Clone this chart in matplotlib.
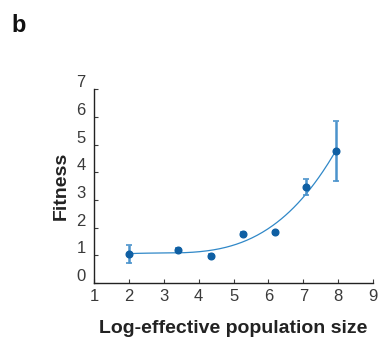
import numpy as np
import matplotlib
matplotlib.use('Agg')
import matplotlib.pyplot as plt
import matplotlib.transforms as mtransforms

# values
log_ne = [2.0, 3.41, 4.35, 5.28, 6.2, 7.09, 7.95]
fitness = [1.04, 1.2, 0.98, 1.76, 1.83, 3.47, 4.75]
err_lo = [0.33, 0.05, 0.08, 0.07, 0.05, 0.28, 1.08]
err_hi = [0.34, 0.05, 0.08, 0.07, 0.05, 0.29, 1.10]

xticks = list(range(1, 10))
yticks = list(range(0, 8))

plt.rcParams['font.family'] = ['Liberation Sans', 'DejaVu Sans']

fig = plt.figure(figsize=(3.78, 3.39), dpi=100)
ax = fig.add_axes([0.249, 0.165, 0.738, 0.572])

# cubic fit through the points
coef = np.polyfit(log_ne, fitness, 3)
xs = np.linspace(min(log_ne), max(log_ne), 200)
ax.plot(xs, np.polyval(coef, xs), color='#3088c8', lw=0.9, zorder=2)

ax.errorbar(log_ne, fitness, yerr=[err_lo, err_hi], fmt='none',
            ecolor='#4b93cc', elinewidth=1.8, capsize=2, capthick=1.2, zorder=3)
ax.plot(log_ne, fitness, 'o', color='#0f5fa3', ms=4.8, mec='#0f5fa3', zorder=4)

ax.set_xlim(1, 9)
ax.set_ylim(0, 7)
ax.set_xticks(xticks)
ax.set_yticks(yticks)
ax.tick_params(direction='in', length=3, width=0.8, colors='#3a3a3a',
               labelsize=12, pad=4)
ax.tick_params(axis='y', pad=6)
for lab in ax.get_yticklabels():
    lab.set_transform(lab.get_transform() +
                      mtransforms.ScaledTranslation(0, 8/100, fig.dpi_scale_trans))

ax.spines['top'].set_visible(False)
ax.spines['right'].set_visible(False)
for s in ['left', 'bottom']:
    ax.spines[s].set_color('#222222')
    ax.spines[s].set_linewidth(1.0)

ax.set_xlabel('Log-effective population size', fontsize=14,
              fontweight='bold', color='#222222', labelpad=12)
ax.set_ylabel('Fitness', fontsize=14, fontweight='bold', color='#222222',
              labelpad=5)

fig.text(0.03, 0.905, 'b', fontsize=17, fontweight='bold', color='#111111')

fig.savefig('out.png', dpi=100)
